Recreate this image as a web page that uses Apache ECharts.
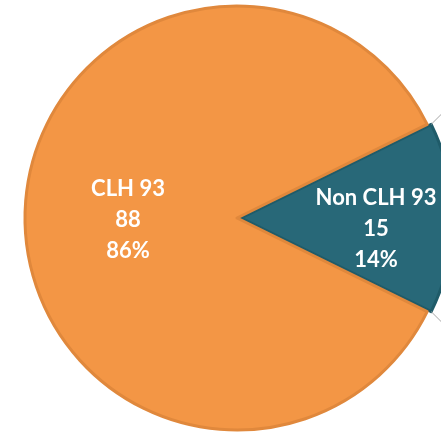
<!DOCTYPE html>
<html>
<head>
<meta charset="utf-8">
<script src="https://cdn.jsdelivr.net/npm/echarts@6/dist/echarts.min.js"></script>
<style>
  html, body { margin: 0; padding: 0; background: #fff; }
  #main { width: 441px; height: 435px; }
</style>
</head>
<body>
<div id="main"></div>
<script>
var chartDom = document.getElementById('main');
var myChart = echarts.init(chartDom);

// data
const categories = ['Non CLH 93', 'CLH 93'];
const counts = [15, 88];
const percentLabels = ['14%', '86%'];

const fills = ['#286878', '#F39645'];
const borders = ['#1F5B69', '#E0883C'];

// pie geometry
const cx = 237, cy = 218, radius = 212;
const explode = 4;
const total = counts.reduce((a, b) => a + b, 0);
const halfAngle = counts[0] / total * 180; // blue slice centred on 0 deg

// connector lines from the small slice corners (pie-of-pie style)
function connector(sign) {
    const a = halfAngle * Math.PI / 180;
    const x0 = cx + explode + radius * Math.cos(a);
    const y0 = cy - sign * radius * Math.sin(a);
    return {
        type: 'line',
        shape: { x1: x0, y1: y0, x2: x0 + 40, y2: y0 - sign * 40 },
        style: { stroke: '#A6A6A6', lineWidth: 1 },
        z: 100
    };
}

const txt = { color: '#fff', fontFamily: 'Lato', fontWeight: 'bold', fontSize: 22, lineHeight: 31 };

var option = {
    animation: false,
    series: [
        {
            type: 'pie',
            center: [cx, cy],
            radius: radius,
            startAngle: halfAngle,
            clockwise: true,
            selectedMode: 'single',
            selectedOffset: explode,
            label: {
                show: true,
                position: 'inside',
                color: '#fff',
                fontFamily: 'Lato',
                fontWeight: 'bold',
                fontSize: 22,
                lineHeight: 31,
                formatter: function (p) {
                    // empty spacer line pushes the block down a little
                    return '{s|}\n{t|' + p.name + '}\n{t|' + p.value + '}\n{t|' + percentLabels[p.dataIndex] + '}';
                },
                rich: { t: txt }
            },
            labelLine: { show: false },
            emphasis: { disabled: true },
            data: categories.map(function (name, i) {
                return {
                    name: name,
                    value: counts[i],
                    selected: i === 0,
                    itemStyle: { color: fills[i], borderColor: borders[i], borderWidth: 3 },
                    label: i === 0
                        ? { padding: [0, 0, 0, 52], rich: { t: txt, s: { lineHeight: 22, fontSize: 1 } } }
                        : { rich: { t: txt, s: { lineHeight: 4, fontSize: 1 } } }
                };
            })
        }
    ],
    graphic: { elements: [connector(1), connector(-1)] }
};

myChart.setOption(option);
</script>
</body>
</html>
